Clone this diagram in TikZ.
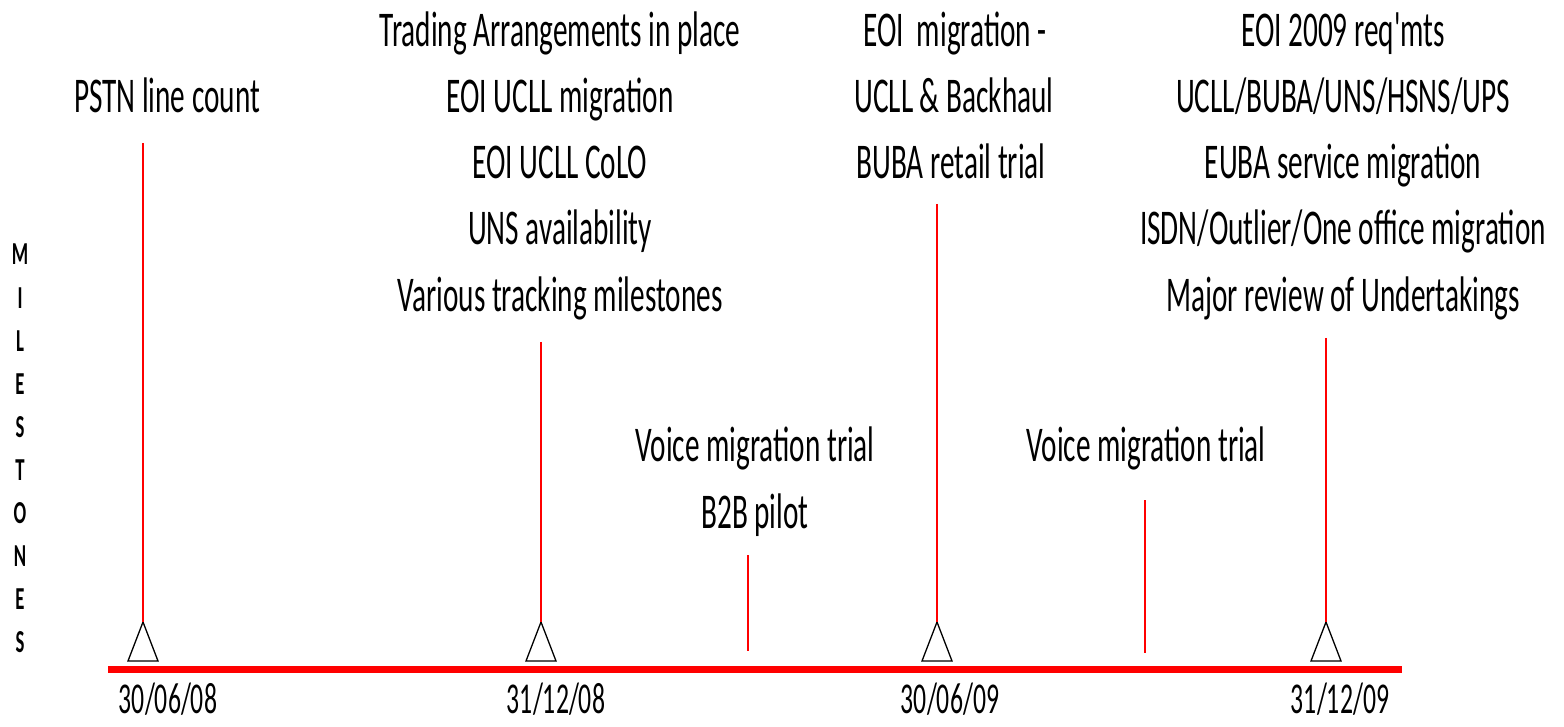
\documentclass[tikz,border=0pt]{standalone}
\usepackage{fontspec}
\setmainfont{Carlito}[FakeStretch=0.585,Ligatures=TeXOff]
\begin{document}
\begin{tikzpicture}[x=1pt,y=-1pt,
  lbl/.style={anchor=base,inner sep=0pt,font=\fontsize{50}{60}\selectfont},
  date/.style={anchor=base,inner sep=0pt,font=\fontsize{44}{50}\selectfont},
  side/.style={anchor=base,inner sep=0pt,font=\fontsize{32}{34}\selectfont\bfseries},
  tick/.style={draw=red,line width=1.5pt},
  tri/.style={draw=black,line width=1.3pt,fill=white,line join=miter},
  axis/.style={draw=red,line width=7pt}]
\useasboundingbox (0,0) rectangle (1564,727);
% axis
\coordinate (axL) at (108,669.5);
\coordinate (axR) at (1402,669.5);
\draw[axis] (axL) -- (axR);
% triangles (apex coordinates)
\foreach \n/\x in {t1/143,t2/541,t3/937,t4/1326}{
  \coordinate (\n) at (\x,622);
  \draw[tri] (\n) -- ++(15,39) -- ++(-30,0) -- cycle;
}
% line tops
\coordinate (l1) at (143,143);
\coordinate (l2) at (541,342);
\coordinate (l3) at (937,204);
\coordinate (l4) at (1326,338);
\coordinate (s1a) at (748,555);
\coordinate (s1b) at (748,651);
\coordinate (s2a) at (1145,500);
\coordinate (s2b) at (1145,653);
\draw[tick] (l1) -- (t1);
\draw[tick] (l2) -- (t2);
\draw[tick] (l3) -- (t3);
\draw[tick] (l4) -- (t4);
\draw[tick] (s1a) -- (s1b);
\draw[tick] (s2a) -- (s2b);
% labels
\node[lbl] (a1) at (167,113) {PSTN line count};
\node[lbl] (b1) at (560,47) {Trading Arrangements in place};
\node[lbl] (b2) at (560,113) {EOI UCLL migration};
\node[lbl] (b3) at (560,179) {EOI UCLL CoLO};
\node[lbl] (b4) at (560,245) {UNS availability};
\node[lbl] (b5) at (560,312) {Various tracking milestones};
\node[lbl] (c1) at (755,461) {Voice migration trial};
\node[lbl] (c2) at (755,528) {B2B pilot};
\node[lbl] (d1) at (955,47) {EOI\ \ migration -};
\node[lbl] (d2) at (954,113) {UCLL \& Backhaul};
\node[lbl] (d3) at (951,179) {BUBA retail trial};
\node[lbl] (e1) at (1146,461) {Voice migration trial};
\node[lbl] (f1) at (1343,47) {EOI 2009 req'mts};
\node[lbl] (f2) at (1343,113) {UCLL/BUBA/UNS/HSNS/UPS};
\node[lbl] (f3) at (1343,179) {EUBA service migration};
\node[lbl] (f4) at (1343,245) {ISDN/Outlier/One office migration};
\node[lbl] (f5) at (1343,312) {Major review of Undertakings};
% dates
\node[date] (dt1) at (168,713) {30/06/08};
\node[date] (dt2) at (556,713) {31/12/08};
\node[date] (dt3) at (950,713) {30/06/09};
\node[date] (dt4) at (1340,713) {31/12/09};
% side label
\foreach \ch [count=\i from 0] in {M,I,L,E,S,T,O,N,E,S}{
  \node[side] (m\i) at (20,265+\i*43.1) {\ch};
}
\end{tikzpicture}
\end{document}
